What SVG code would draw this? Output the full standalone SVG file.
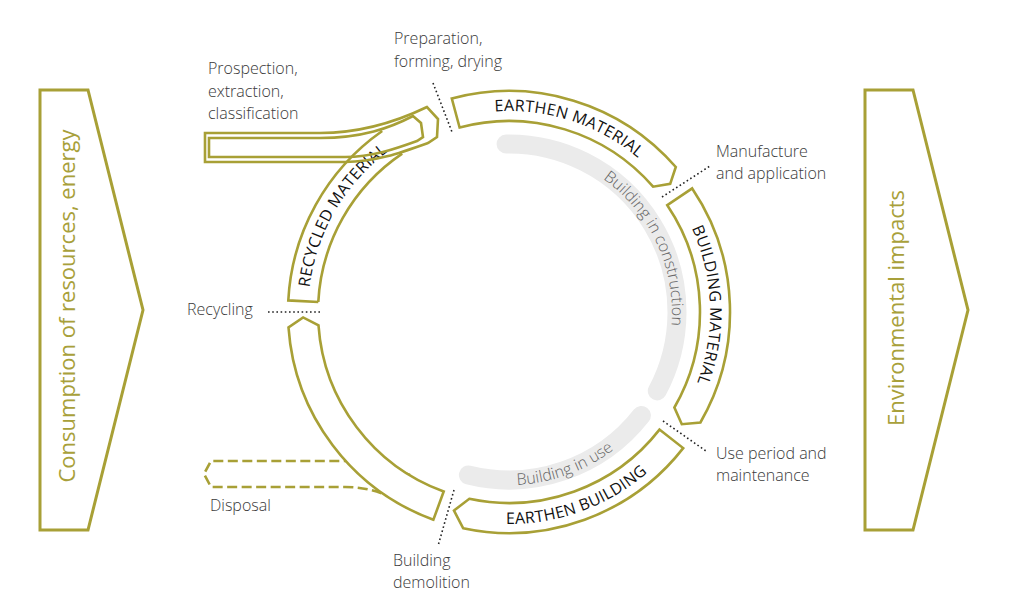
<svg xmlns="http://www.w3.org/2000/svg" width="1009" height="594" viewBox="0 0 1009 594">
<style>
.ol{fill:none;stroke:#a8a036;stroke-width:2.6;stroke-linejoin:miter}
.seg{fill:#fff;stroke:#a8a036;stroke-width:2.6;stroke-linejoin:miter}
.big{fill:none;stroke:#a8a036;stroke-width:3}
.gray{fill:none;stroke:#ebebeb;stroke-width:19;stroke-linecap:round}
.dot{fill:none;stroke:#222;stroke-width:1.6;stroke-dasharray:1.6 2.6}
.lab{font-family:"Open Sans","DejaVu Sans",sans-serif;font-size:16px;font-weight:300;fill:#3a3a3a}
.seglab{font-family:"Open Sans","DejaVu Sans",sans-serif;font-size:16px;font-weight:500;letter-spacing:0.3px;fill:#111}
.glab{font-family:"Open Sans","DejaVu Sans",sans-serif;font-size:16px;font-weight:300;fill:#666}
.bigt{font-family:"Open Sans","DejaVu Sans",sans-serif;font-size:22px;font-weight:400;fill:#a8a03a}
</style>
<defs>
<path id="pEM" d="M 374.5 162.6 A 201 201 0 0 1 705.6 270.2"/>
<path id="pBM" d="M 603.4 134.5 A 201 201 0 0 1 615.5 482.5"/>
<path id="pEB" d="M 372.7 474.4 A 212 212 0 0 0 717.8 348.8"/>
<path id="pRM" d="M 334.9 412.5 A 201 201 0 0 1 509.0 111.0"/>
<path id="pBC" d="M 523.2 149.6 A 163 163 0 0 1 642.5 405.5"/>
<path id="pBU" d="M 449.8 474.6 A 173 173 0 0 0 658.8 398.5"/>
</defs>
<rect width="1009" height="594" fill="#fff"/>

<g id="input-arrow">
<path class="big" d="M 40 90 L 88 90 L 143 310 L 88 530 L 40 530 Z"/>
<text class="bigt" transform="translate(75,306) rotate(-90)" text-anchor="middle">Consumption of resources, energy</text>
</g>
<g id="output-arrow">
<path class="big" d="M 865 90 L 913 90 L 968 310 L 913 530 L 865 530 Z"/>
<text class="bigt" transform="translate(904,308) rotate(-90)" text-anchor="middle">Environmental impacts</text>
</g>

<g id="building-in-construction">
<path class="gray" d="M 506.1 144.0 A 168 168 0 0 1 657.3 390.9"/>
<text class="glab"><textPath href="#pBC" startOffset="50%" text-anchor="middle">Building in construction</textPath></text>
</g>
<g id="building-in-use">
<path class="gray" d="M 641.4 415.4 A 168 168 0 0 1 468.4 475.0"/>
<text class="glab"><textPath href="#pBU" startOffset="50%" text-anchor="middle">Building in use</textPath></text>
</g>

<g id="disposal">
<path class="ol" stroke-dasharray="10 4.5" d="M 410 475 C 385 466 365 461 345 461 L 211 461 L 204 474 L 211 487 L 345 487 C 365 487 380 492 393 498"/>
</g>

<g id="recycled-material">
<path class="ol" d="M 318.3 302.0 L 288.3 300.4 A 221 221 0 0 1 382.2 131.0 M 402.2 153.7 A 191 191 0 0 0 318.3 302.0"/>
<text class="seglab"><textPath href="#pRM" startOffset="50%" text-anchor="middle">RECYCLED MATERIAL</textPath></text>
</g>

<g id="prospection">
<path class="ol" d="M 205 133 L 320 133 C 365 133 400 120 427 107 L 438 119 L 437 137 L 428 143 C 400 153 375 162 345 162 L 205 162 Z"/>
<path class="ol" d="M 209 138 L 320 138 C 362 138 390 128 413 116 L 421 123 L 423 137 L 417 141 C 395 149 372 157 345 157 L 209 157 Z"/>
</g>

<g id="earthen-material">
<path class="seg" d="M 451.8 98.5 A 221 221 0 0 1 675.8 167.0 L 670.2 183.8 L 653.1 186.7 A 191 191 0 0 0 459.6 127.5 Z"/>
<text class="seglab"><textPath href="#pEM" startOffset="50%" text-anchor="middle">EARTHEN MATERIAL</textPath></text>
</g>

<g id="building-material">
<path class="seg" d="M 692.2 188.4 A 221 221 0 0 1 700.4 422.5 L 681.8 424.2 L 674.4 407.5 A 191 191 0 0 0 667.3 205.2 Z"/>
<text class="seglab"><textPath href="#pBM" startOffset="50%" text-anchor="middle">BUILDING MATERIAL</textPath></text>
</g>

<g id="earthen-building">
<path class="seg" d="M 683.2 448.1 A 221 221 0 0 1 463.1 528.2 L 454.0 510.5 L 469.3 498.8 A 191 191 0 0 0 659.5 429.6 Z"/>
<text class="seglab"><textPath href="#pEB" startOffset="50%" text-anchor="middle">EARTHEN BUILDING</textPath></text>
</g>

<g id="demolished-material">
<path class="seg" d="M 433.4 519.7 A 221 221 0 0 1 288.5 327.4 L 303.1 317.4 L 318.5 325.3 A 191 191 0 0 0 443.7 491.5 Z"/>
</g>

<g id="connectors">
<path class="dot" d="M 433 83 L 452 132"/>
<path class="dot" d="M 662 197 L 710 166"/>
<path class="dot" d="M 663 421 L 706 451"/>
<path class="dot" d="M 454 490 L 438 546"/>
<path class="dot" d="M 268 312 L 321 312"/>
</g>

<g id="labels">
<text class="lab" x="394" y="44">Preparation,</text>
<text class="lab" x="394" y="67">forming, drying</text>
<text class="lab" x="208" y="74">Prospection,</text>
<text class="lab" x="208" y="97">extraction,</text>
<text class="lab" x="208" y="119">classification</text>
<text class="lab" x="716" y="157">Manufacture</text>
<text class="lab" x="716" y="179">and application</text>
<text class="lab" x="187" y="315">Recycling</text>
<text class="lab" x="716" y="459">Use period and</text>
<text class="lab" x="716" y="481">maintenance</text>
<text class="lab" x="210" y="511">Disposal</text>
<text class="lab" x="393" y="566">Building</text>
<text class="lab" x="393" y="588">demolition</text>
</g>
</svg>
